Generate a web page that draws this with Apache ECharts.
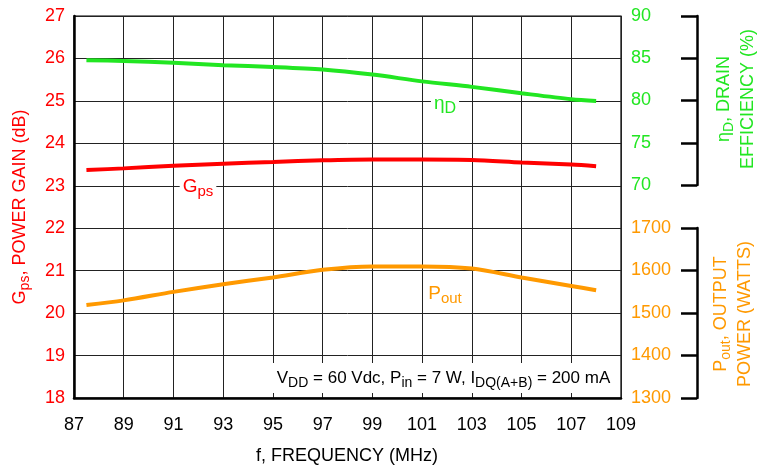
<!DOCTYPE html>
<html><head><meta charset="utf-8">
<script src="https://cdn.jsdelivr.net/npm/echarts@6/dist/echarts.min.js"></script>
<style>html,body{margin:0;padding:0;background:#fff}#c{width:761px;height:465px}</style>
</head><body><div id="c"></div>
<script>
const freqMHz = [87.5, 89, 91, 93, 95, 97, 99, 101, 103, 105, 107, 108];
const gainDb  = [23.37, 23.41, 23.47, 23.52, 23.56, 23.60, 23.62, 23.62, 23.61, 23.55, 23.50, 23.46];
const effPct  = [84.8, 84.7, 84.5, 84.2, 84.0, 83.7, 83.1, 82.3, 81.65, 80.9, 80.2, 80.0];
const poutW   = [1519, 1530, 1550, 1568, 1584, 1602, 1610, 1610, 1605, 1584, 1564, 1554];

const RED = '#ff0000', GREEN = '#22e622', ORANGE = '#ff9900';
const FONT = "'Liberation Sans',Arial,sans-serif";
const pairs = v => freqMHz.map((f, i) => [f, v[i]]);

function richStyle(color, size, sub) {
  return {
    n: {fontFamily: FONT, fontSize: size, fill: color, color: color, lineHeight: size + 6},
    s: {fontFamily: FONT, fontSize: sub, fill: color, color: color, verticalAlign: 'bottom', lineHeight: sub + 1}
  };
}
function txt(x, y, text, color, size, sub, rot, bg, extra) {
  return {
    type: 'text', x: x, y: y, rotation: rot || 0, z: 100,
    style: Object.assign({
      text: text, rich: richStyle(color, size, sub), align: 'center', verticalAlign: 'middle',
      fill: color, fontFamily: FONT, fontSize: size,
      backgroundColor: bg || 'transparent'
    }, extra || {})
  };
}

const chart = echarts.init(document.getElementById('c'));
chart.setOption({
  animation: false,
  backgroundColor: '#fff',
  grid: [
    {left: 74, top: 16, width: 547, height: 382, show: true, borderColor: '#000', borderWidth: 1.2, containLabel: false},
    {left: 697, top: 16, width: 1, height: 169, containLabel: false},
    {left: 697, top: 228, width: 1, height: 170, containLabel: false}
  ],
  xAxis: [
    {type: 'value', gridIndex: 0, min: 87, max: 109, interval: 2,
     axisLine: {show: true, onZero: false, lineStyle: {color: '#000', width: 2.5}},
     axisTick: {show: false},
     splitLine: {show: true, lineStyle: {color: '#222', width: 1}},
     axisLabel: {color: '#000', fontFamily: FONT, fontSize: 18, margin: 18}},
    {type: 'value', gridIndex: 1, show: false, min: 0, max: 1},
    {type: 'value', gridIndex: 2, show: false, min: 0, max: 1}
  ],
  yAxis: [
    {type: 'value', gridIndex: 0, min: 18, max: 27, interval: 1, position: 'left',
     axisLine: {show: true, onZero: false, lineStyle: {color: '#000', width: 2.5}},
     axisTick: {show: false},
     splitLine: {show: true, lineStyle: {color: '#222', width: 1}},
     axisLabel: {color: RED, fontFamily: FONT, fontSize: 18, margin: 9}},
    {type: 'value', gridIndex: 0, min: 45, max: 90, show: false, splitLine: {show: false}},
    {type: 'value', gridIndex: 0, min: 1300, max: 2200, show: false, splitLine: {show: false}},
    {type: 'value', gridIndex: 1, min: 70, max: 90, interval: 5, position: 'left',
     axisLine: {show: true, lineStyle: {color: '#000', width: 2.5}},
     axisTick: {show: true, length: 16, lineStyle: {color: '#000', width: 2.5}},
     splitLine: {show: false},
     axisLabel: {color: GREEN, fontFamily: FONT, fontSize: 18, align: 'left', margin: 66}},
    {type: 'value', gridIndex: 2, min: 1300, max: 1700, interval: 100, position: 'left',
     axisLine: {show: true, lineStyle: {color: '#000', width: 2.5}},
     axisTick: {show: true, length: 16, lineStyle: {color: '#000', width: 2.5}},
     splitLine: {show: false},
     axisLabel: {color: ORANGE, fontFamily: FONT, fontSize: 18, align: 'left', margin: 66,
                 formatter: v => String(v)}}
  ],
  series: [
    {type: 'line', name: 'Gps', xAxisIndex: 0, yAxisIndex: 0, data: pairs(gainDb), smooth: 0.3,
     showSymbol: false, lineStyle: {color: RED, width: 4}, z: 5},
    {type: 'line', name: 'eta', xAxisIndex: 0, yAxisIndex: 1, data: pairs(effPct), smooth: 0.3,
     showSymbol: false, lineStyle: {color: GREEN, width: 4}, z: 5},
    {type: 'line', name: 'Pout', xAxisIndex: 0, yAxisIndex: 2, data: pairs(poutW), smooth: 0.3,
     showSymbol: false, lineStyle: {color: ORANGE, width: 4}, z: 5}
  ],
  graphic: [
    txt(20, 207, '{n|G}{s|ps}{n|, POWER GAIN (dB)}', RED, 18, 14, Math.PI / 2),
    txt(736, 99, '{n|η}{s|D}{n|, DRAIN}\n{n|EFFICIENCY (%)}', GREEN, 18, 14, Math.PI / 2),
    txt(733, 314, '{n|P}{s|out}{n|, OUTPUT}\n{n|POWER (WATTS)}', ORANGE, 18, 14, Math.PI / 2),
    txt(347, 456, '{n|f, FREQUENCY (MHz)}', '#000', 18, 14, 0),
    txt(445, 104, '{n|η}{s|D}', GREEN, 19, 16, 0, '#fff', {padding: [0, 3, 0, 3]}),
    txt(198, 187, '{n|G}{s|ps}', RED, 19, 15, 0, '#fff', {padding: [0, 3, 0, 3]}),
    txt(445, 294, '{n|P}{s|out}', ORANGE, 19, 15, 0),
    txt(442, 378, '{n|V}{s|DD}{n| = 60 Vdc, P}{s|in}{n| = 7 W, I}{s|DQ(A+B)}{n| = 200 mA}', '#000', 17, 14, 0, '#fff', {padding: [4, 9, 3, 12]})
  ]
});
</script></body></html>
